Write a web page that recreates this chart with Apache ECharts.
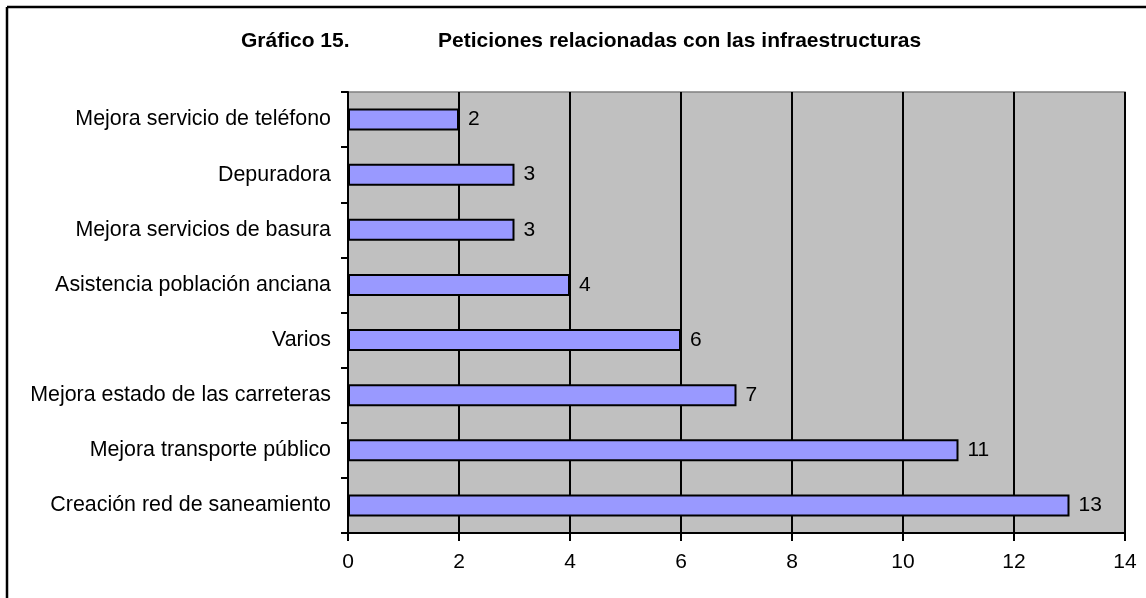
<!DOCTYPE html>
<html>
<head>
<meta charset="utf-8">
<script src="https://cdn.jsdelivr.net/npm/echarts@6/dist/echarts.min.js"></script>
<style>
html,body{margin:0;padding:0;background:#fff;}
#chart{width:1146px;height:598px;}
</style>
</head>
<body>
<div id="chart"></div>
<script>
const categories = [
  "Mejora servicio de teléfono",
  "Depuradora",
  "Mejora servicios de basura",
  "Asistencia población anciana",
  "Varios",
  "Mejora estado de las carreteras",
  "Mejora transporte público",
  "Creación red de saneamiento"
];
const values = [2, 3, 3, 4, 6, 7, 11, 13];
const titleLeft = "Gráfico 15.";
const titleRight = "Peticiones relacionadas con las infraestructuras";

const chart = echarts.init(document.getElementById('chart'), null, {renderer: 'canvas'});
const font = 'Liberation Sans, Arial, sans-serif';
chart.setOption({
  animation: false,
  backgroundColor: '#ffffff',
  textStyle: {fontFamily: font},
  title: [
    {text: titleLeft, left: 236, top: 26, textStyle: {fontFamily: font, fontWeight: 'bold', fontSize: 21, color: '#000'}},
    {text: titleRight, left: 433, top: 26, textStyle: {fontFamily: font, fontWeight: 'bold', fontSize: 21, color: '#000'}}
  ],
  graphic: [
    {type: 'line', shape: {x1: 7, y1: 7, x2: 1146, y2: 7}, style: {stroke: '#000', lineWidth: 2.5}},
    {type: 'line', shape: {x1: 7, y1: 7, x2: 7, y2: 598}, style: {stroke: '#000', lineWidth: 2.5}}
  ],
  grid: {
    left: 348, right: 21, top: 92, bottom: 65,
    show: true, backgroundColor: '#C0C0C0', borderColor: '#808080', borderWidth: 1.5
  },
  xAxis: {
    type: 'value', min: 0, max: 14, interval: 2,
    axisLine: {show: true, lineStyle: {color: '#000', width: 2}},
    axisTick: {show: true, length: 8, lineStyle: {color: '#000', width: 2}},
    axisLabel: {fontSize: 21, color: '#000', margin: 19, fontFamily: font},
    splitLine: {show: true, lineStyle: {color: '#000', width: 2}}
  },
  yAxis: {
    type: 'category', data: categories, inverse: true,
    axisLine: {show: true, lineStyle: {color: '#000', width: 2}},
    axisTick: {show: true, length: 7, lineStyle: {color: '#000', width: 2}},
    axisLabel: {fontSize: 21.4, color: '#000', margin: 17, fontFamily: font},
    splitLine: {show: false}
  },
  series: [{
    type: 'bar', data: values, barWidth: '40%',
    itemStyle: {color: '#9999FF', borderColor: '#000', borderWidth: 2},
    label: {show: true, position: 'right', distance: 9, fontSize: 21, color: '#000', fontFamily: font}
  }]
});
</script>
</body>
</html>
